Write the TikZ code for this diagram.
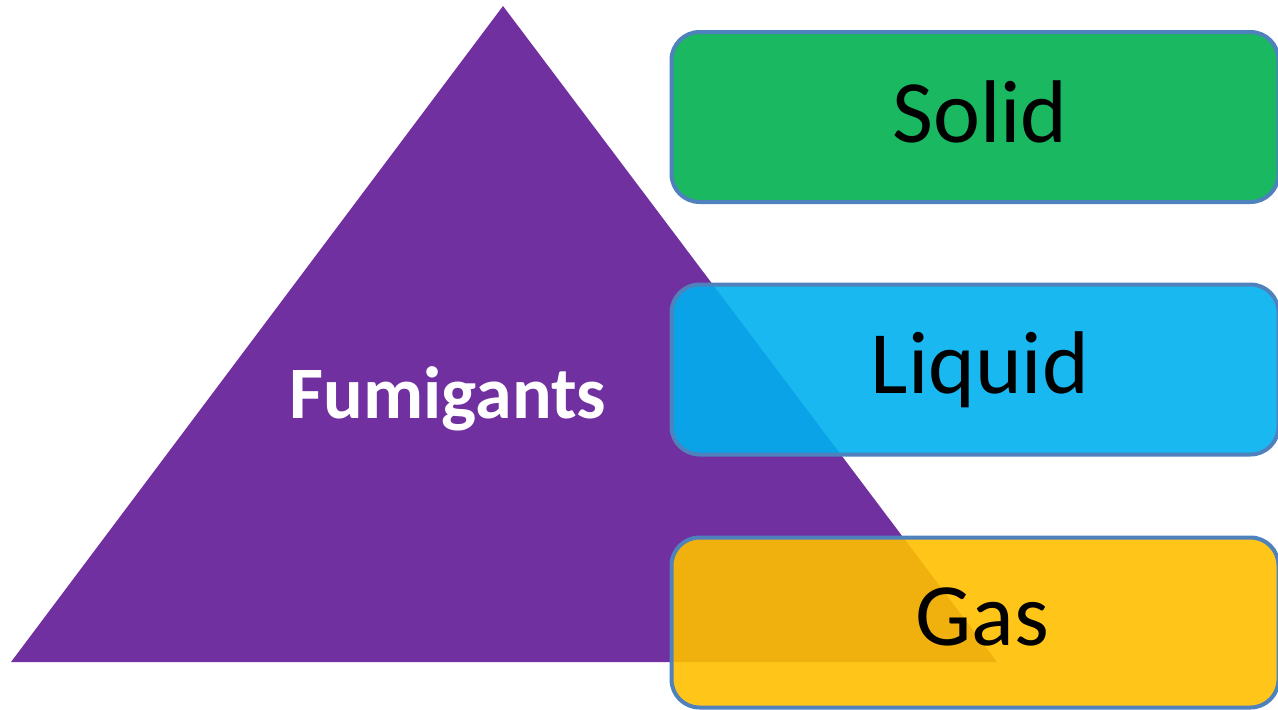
\documentclass[tikz,border=0pt]{standalone}
\usepackage{fontspec}
\setmainfont{Carlito}
\definecolor{fumpurple}{HTML}{7030A0}
\definecolor{solidgreen}{HTML}{00B050}
\definecolor{liquidblue}{HTML}{00B0F0}
\definecolor{gasyellow}{HTML}{FFC000}
\definecolor{edgeblue}{HTML}{4F81BD}

\begin{document}
\begin{tikzpicture}[x=1pt, y=-1pt,
        phase/.style = {draw=edgeblue, line width=4pt, rounded corners=28pt,
                minimum width=607pt, minimum height=170pt, inner sep=0pt,
                fill opacity=0.9},
        phasetext/.style = {anchor=base, inner sep=0pt, font=\fontsize{89}{89}\selectfont},
        titletext/.style = {anchor=base, inner sep=0pt, text=white,
                font=\bfseries\fontsize{74}{74}\selectfont} ]
        \useasboundingbox (0,0) rectangle (1278,710);

        \fill[fumpurple] (503,6) -- (997,662) -- (11,662) -- cycle;
        \node at (448,418) [titletext] (fum) {Fumigants};

        \node at (975,117) [phase, fill=solidgreen] (solid) {};
        \node at (975,369.5) [phase, fill=liquidblue] (liquid) {};
        \node at (975,622.5) [phase, fill=gasyellow] (gas) {};

        \node at (980,142) [phasetext] (solidname) {Solid};
        \node at (980,393) [phasetext] (liquidname) {Liquid};
        \node at (982,645) [phasetext] (gasname) {Gas};

    \end{tikzpicture}
\end{document}
